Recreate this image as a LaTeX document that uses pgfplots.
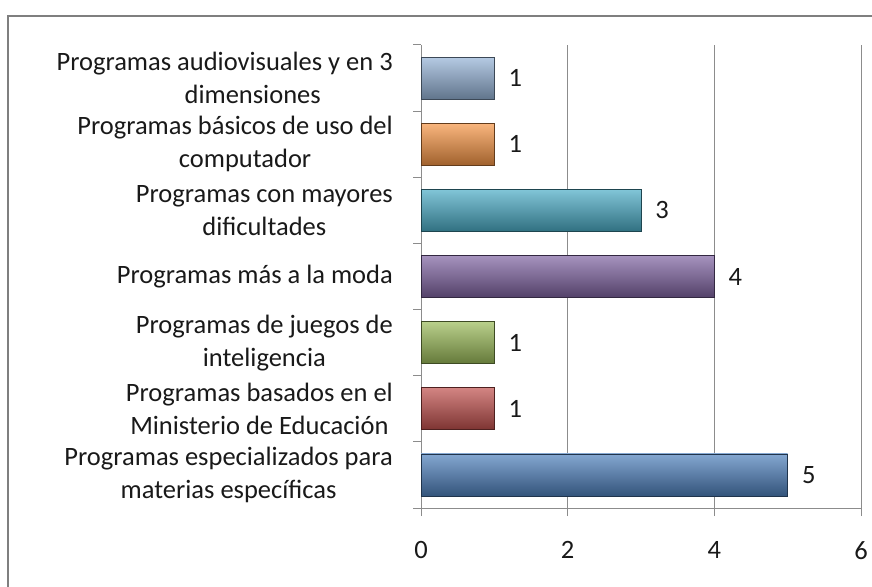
\documentclass[border=0pt]{standalone}
\usepackage{pgfplots}
\pgfplotsset{compat=1.18}
\usepackage{fontspec}
\setmainfont{Carlito}
\definecolor{frame}{HTML}{7F7F7F}
\definecolor{gridc}{HTML}{8C8C8C}
\definecolor{cblue}{HTML}{4F81BD}
\definecolor{cred}{HTML}{C0504D}
\definecolor{cgreen}{HTML}{9BBB59}
\definecolor{cpurple}{HTML}{8064A2}
\definecolor{cteal}{HTML}{4BACC6}
\definecolor{corange}{HTML}{F79646}
\definecolor{clblue}{HTML}{95B3D7}
\pgfplotsset{bev/.style={draw=#1!40!black, line width=0.8pt, top color=#1!70!white, middle color=#1, bottom color=#1!65!black}}
\begin{document}
\begin{tikzpicture}[x=1pt,y=1pt]
\useasboundingbox (0pt,0pt) rectangle (872pt,586pt);
\draw[line width=2.2pt, color=frame] (8pt,-5pt) -- (8pt,570pt) -- (880pt,570pt);
\begin{axis}[at={(421pt,78pt)}, anchor=south west, scale only axis,
  width=440pt, height=463pt,
  xbar, bar width=42pt, bar shift=0pt,
  xmin=0, xmax=6, ymin=-0.5, ymax=6.5,
  axis lines*=left,
  axis line style={gridc, line width=1pt},
  xtick={0,2,4,6},
  xmajorgrids, grid style={gridc, line width=1pt},
  ytick={-0.5,0.5,...,6.5}, yticklabels={},
  tick align=outside, major tick length=8pt,
  tick style={gridc, line width=1pt},
  extra y ticks={0,1,2,3,4,5,6},
  extra y tick style={major tick length=0pt, grid=none},
  extra y tick labels={{Programas especializados para\\materias específicas},
    {Programas basados en el\\Ministerio de Educación},
    {Programas de juegos de\\inteligencia},
    {Programas más a la moda},
    {Programas con mayores\\dificultades},
    {Programas básicos de uso del\\\hspace*{20pt}computador},
    {Programas audiovisuales y en 3\\\hspace*{56pt}dimensiones}},
  yticklabel style={align=center, inner sep=0pt, text=black!90, font={\fontsize{26.5}{33}\selectfont}},
  yticklabel shift=28pt,
  xticklabel style={inner sep=0pt, text=black!90, font={\fontsize{26.5}{33}\selectfont}},
  xticklabel shift=25pt,
  /pgf/number format/assume math mode=true,
  nodes near coords,
  nodes near coords style={anchor=west, inner sep=0pt, xshift=14pt, font={\fontsize{26.5}{33}\selectfont}, text=black!90},
  clip=false,
]
\addplot[bev=cblue] coordinates {(5,0)};
\addplot[bev=cred] coordinates {(1,1)};
\addplot[bev=cgreen] coordinates {(1,2)};
\addplot[bev=cpurple] coordinates {(4,3)};
\addplot[bev=cteal] coordinates {(3,4)};
\addplot[bev=corange] coordinates {(1,5)};
\addplot[bev=clblue] coordinates {(1,6)};
\end{axis}
\end{tikzpicture}
\end{document}
